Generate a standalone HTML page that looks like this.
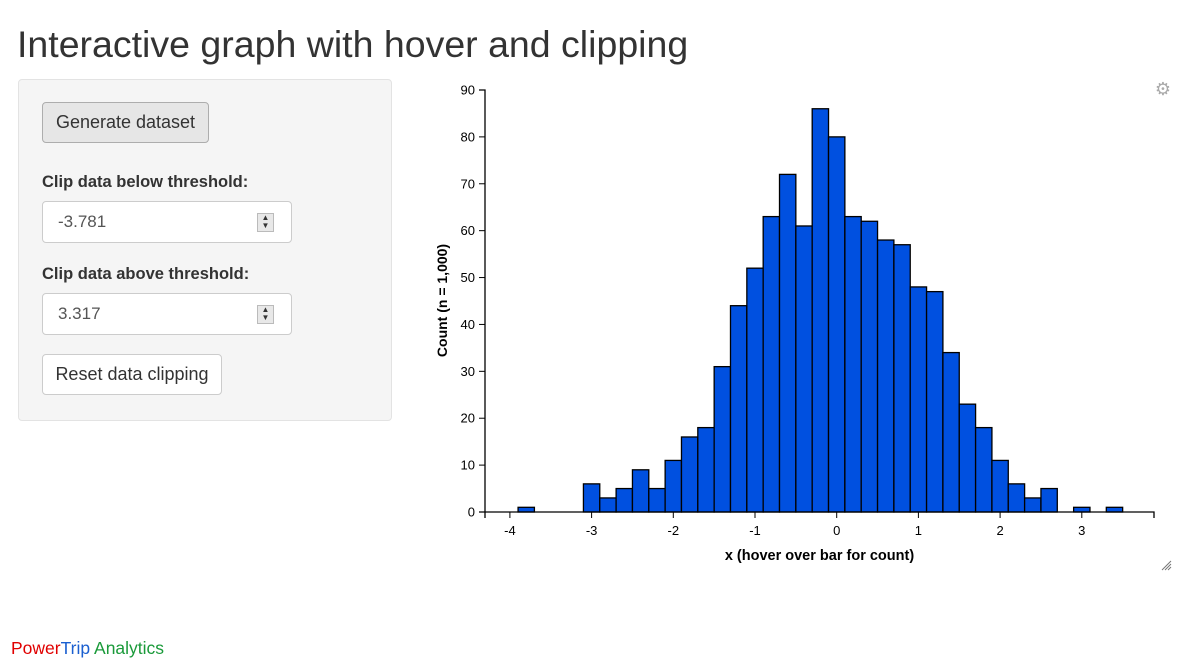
<!DOCTYPE html>
<html><head><meta charset="utf-8"><style>
body{margin:0;width:1181px;height:665px;background:#fff;font-family:"Liberation Sans",Arial,sans-serif;color:#333;position:relative;overflow:hidden}
h1{position:absolute;left:17px;top:22px;margin:0;font-size:37.5px;font-weight:normal;line-height:44px}
.panel{position:absolute;left:18px;top:79px;width:372px;height:340px;background:#f5f5f5;border:1px solid #e3e3e3;border-radius:4px}
.btn{position:absolute;left:23px;height:41px;border:1px solid #adadad;border-radius:4px;font-size:18px;line-height:39px;text-align:center;box-sizing:border-box}
.lbl{position:absolute;left:23px;font-weight:bold;font-size:16.5px}
.inp{position:absolute;left:23px;width:250px;height:42px;background:#fff;border:1px solid #ccc;border-radius:4px;box-sizing:border-box;font-size:17px;line-height:40px;padding-left:15px;color:#555}
.spin{position:absolute;right:17px;top:11px;width:17px;height:19px;background:#e8e8e8;border:1px solid #bbb;box-sizing:border-box;font-size:8px;line-height:8px;text-align:center;color:#333}
.foot{position:absolute;left:11px;top:638px;font-size:17.5px}
</style></head><body>
<h1>Interactive graph with hover and clipping</h1>
<div class="panel">
<div class="btn" style="top:22px;width:167px;background:#e6e6e6">Generate dataset</div>
<div class="lbl" style="top:93px">Clip data below threshold:</div>
<div class="inp" style="top:121px">-3.781<div class="spin">▲<br>▼</div></div>
<div class="lbl" style="top:185px">Clip data above threshold:</div>
<div class="inp" style="top:213px">3.317<div class="spin">▲<br>▼</div></div>
<div class="btn" style="top:274px;width:180px;background:#fff;border-color:#ccc">Reset data clipping</div>
</div>
<svg id="chart" width="1181" height="665" style="position:absolute;left:0;top:0"></svg>
<div class="foot"><span style="color:#e00000">Power</span><span style="color:#1a5fd0">Trip</span> <span style="color:#1a9a3a">Analytics</span></div>
<script>
const binCenters=[-3.8,-3.6,-3.4,-3.2,-3.0,-2.8,-2.6,-2.4,-2.2,-2.0,-1.8,-1.6,-1.4,-1.2,-1.0,-0.8,-0.6,-0.4,-0.2,0,0.2,0.4,0.6,0.8,1.0,1.2,1.4,1.6,1.8,2.0,2.2,2.4,2.6,2.8,3.0,3.2,3.4];
const counts=[1,0,0,0,6,3,5,9,5,11,16,18,31,44,52,63,72,61,86,80,63,62,58,57,48,47,34,23,18,11,6,3,5,0,1,0,1];
const binWidth=0.2;
const xTicks=[-4,-3,-2,-1,0,1,2,3];
const yTicks=[0,10,20,30,40,50,60,70,80,90];
const NS="http://www.w3.org/2000/svg",svg=document.getElementById('chart');
const x=v=>836.7+(v)*81.7, y=v=>512-v*4.689;
function mk(t,a,p){const e=document.createElementNS(NS,t);for(const k in a)e.setAttribute(k,a[k]);(p||svg).appendChild(e);return e;}
const g=mk('g',{});


binCenters.forEach((c,i)=>{if(!counts[i])return;
const r=mk('rect',{x:x(c-binWidth/2),y:y(counts[i]),width:x(c+binWidth/2)-x(c-binWidth/2),height:y(0)-y(counts[i]),fill:'#0050e0',stroke:'#000','stroke-width':1.3},g);

});
const xa=mk('g',{});


mk('path',{d:'M485,518V512H1154V518',fill:'none',stroke:'#000','stroke-width':1.3},xa);
xTicks.forEach(t=>{mk('line',{x1:x(t),x2:x(t),y1:512,y2:518,stroke:'#000'},xa);
const tx=mk('text',{x:x(t),y:535,'text-anchor':'middle','font-size':13,fill:'#000'},xa);tx.textContent=t;});
const ya=mk('g',{});


mk('path',{d:'M479,90H485V512H479',fill:'none',stroke:'#000','stroke-width':1.3},ya);
yTicks.forEach(t=>{mk('line',{x1:479,x2:485,y1:y(t),y2:y(t),stroke:'#000'},ya);
const tx=mk('text',{x:475,y:y(t)+4.5,'text-anchor':'end','font-size':13,fill:'#000'},ya);tx.textContent=t;});
const xl=mk('text',{x:819.5,y:560,'text-anchor':'middle','font-size':14.5,'font-weight':'bold',fill:'#000'});xl.textContent='x (hover over bar for count)';


const yl=mk('text',{transform:'translate(447,300.5) rotate(-90)','text-anchor':'middle','font-size':14,'font-weight':'bold',fill:'#000'});yl.textContent='Count (n = 1,000)';


const gear=mk('text',{x:1163,y:95,'text-anchor':'middle','font-size':18,fill:'#aaa'});gear.textContent='⚙';


const grip=mk('path',{d:'M1162,570L1171,561M1165,570L1171,564M1168,570L1171,567',stroke:'#777','stroke-width':1});


</script>
</body></html>
